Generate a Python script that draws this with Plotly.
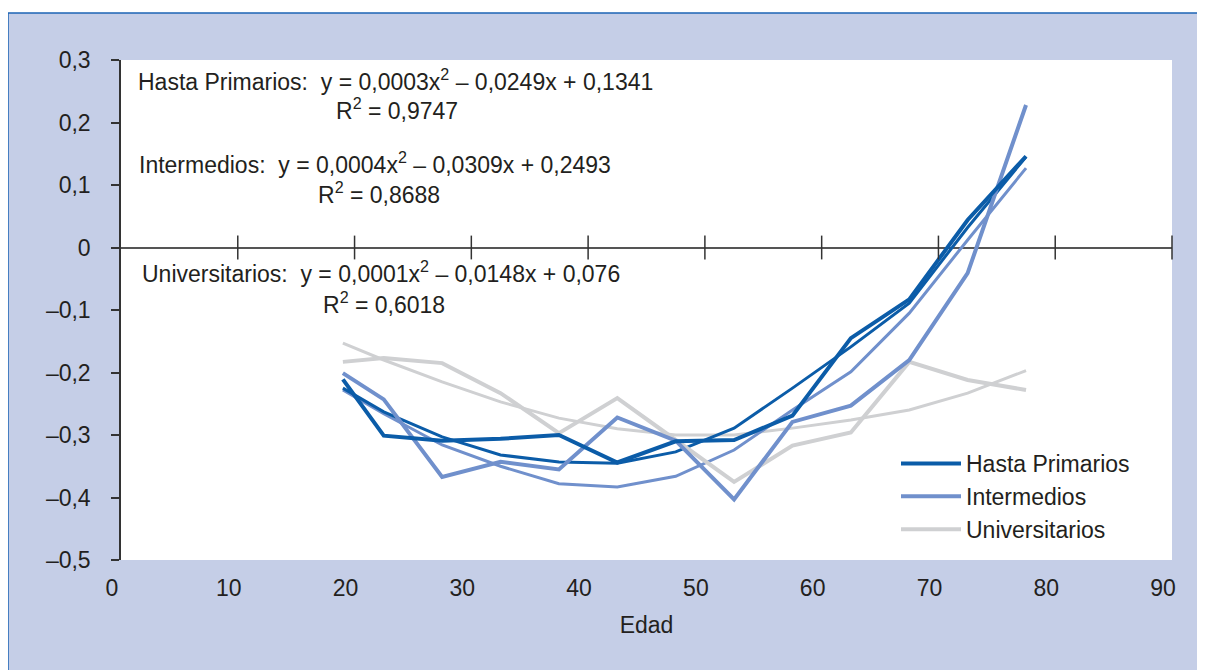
import plotly.graph_objects as go

# ---- data ----
edad = [19, 22.5, 27.5, 32.5, 37.5, 42.5, 47.5, 52.5, 57.5, 62.5, 67.5, 72.5, 77.5]

hasta_primarios = [-0.211, -0.301, -0.309, -0.306, -0.300, -0.344, -0.310, -0.308, -0.269, -0.145, -0.083, 0.044, 0.146]
hasta_trend = [-0.225, -0.263, -0.303, -0.332, -0.343, -0.345, -0.327, -0.289, -0.225, -0.159, -0.089, 0.032, 0.145]

intermedios = [-0.201, -0.243, -0.367, -0.343, -0.355, -0.272, -0.309, -0.403, -0.279, -0.253, -0.180, -0.041, 0.228]
intermedios_trend = [-0.228, -0.266, -0.316, -0.350, -0.378, -0.383, -0.366, -0.324, -0.260, -0.199, -0.105, 0.012, 0.127]

universitarios = [-0.183, -0.177, -0.185, -0.233, -0.297, -0.241, -0.308, -0.375, -0.317, -0.296, -0.183, -0.212, -0.228]
universitarios_trend = [-0.153, -0.180, -0.215, -0.247, -0.273, -0.290, -0.300, -0.300, -0.289, -0.276, -0.260, -0.233, -0.197]

x_ticks = [0, 10, 20, 30, 40, 50, 60, 70, 80, 90]
y_ticks = [0.3, 0.2, 0.1, 0, -0.1, -0.2, -0.3, -0.4, -0.5]
y_tick_labels = ["0,3", "0,2", "0,1", "0", "\u20130,1", "\u20130,2", "\u20130,3", "\u20130,4", "\u20130,5"]

equations = [
    "Hasta Primarios:\u00a0\u00a0y = 0,0003x<sup>2</sup> \u2013 0,0249x + 0,1341",
    "R<sup>2</sup> = 0,9747",
    "Intermedios:\u00a0\u00a0y = 0,0004x<sup>2</sup> \u2013 0,0309x + 0,2493",
    "R<sup>2</sup> = 0,8688",
    "Universitarios:\u00a0\u00a0y = 0,0001x<sup>2</sup> \u2013 0,0148x + 0,076",
    "R<sup>2</sup> = 0,6018",
]

# ---- style ----
C_HASTA = "#0b5ca8"
C_INTER = "#7090cc"
C_UNIV = "#cfd0d2"
BG = "#c5cee7"
TXT = "#231f20"
FONT = "Liberation Sans, Arial, sans-serif"
FS = 23

OFF = 8  # page body margin offset
W, H = 1205, 670
L, T = 121 - OFF, 60 - OFF
R = W - (1172 - OFF)
B = H - (560 - OFF)
PW, PH = W - L - R, H - T - B


def px_x(px):  # page pixel -> paper x
    return (px - OFF - L) / PW


def px_y(py):  # page pixel -> paper y
    return (H - B - (py - OFF)) / PH


fig = go.Figure()

# trend lines (drawn first, thinner)
for ys, col in [(universitarios_trend, C_UNIV), (intermedios_trend, C_INTER), (hasta_trend, C_HASTA)]:
    fig.add_trace(go.Scatter(x=edad, y=ys, mode="lines", line=dict(color=col, width=3),
                             showlegend=False, hoverinfo="skip"))

# data series
for ys, col, name in [(universitarios, C_UNIV, "Universitarios"),
                      (intermedios, C_INTER, "Intermedios"),
                      (hasta_primarios, C_HASTA, "Hasta Primarios")]:
    fig.add_trace(go.Scatter(x=edad, y=ys, mode="lines", name=name,
                             line=dict(color=col, width=4)))

# tick marks crossing the horizontal axis at y = 0
fig.add_trace(go.Scatter(x=x_ticks[1:], y=[0] * (len(x_ticks) - 1), mode="markers",
                         marker=dict(symbol="line-ns", size=17, color="#333333",
                                     line=dict(color="#333333", width=1.5)),
                         showlegend=False, hoverinfo="skip", cliponaxis=False))

# equation annotations
ann_pos = [(136, 80), (334, 109), (137, 163), (316, 193), (140, 272), (321, 303)]
for txt, (ax, ay) in zip(equations, ann_pos):
    fig.add_annotation(text=txt, x=px_x(ax), y=px_y(ay), xref="paper", yref="paper",
                       xanchor="left", yanchor="middle", showarrow=False,
                       font=dict(family=FONT, size=FS, color=TXT))

shapes = [
    # white strips outside the framed panel
    dict(type="rect", xref="paper", yref="paper", x0=px_x(-20), x1=px_x(1230), y0=px_y(13), y1=px_y(-20),
         fillcolor="white", line=dict(width=0), layer="below"),
    dict(type="rect", xref="paper", yref="paper", x0=px_x(-20), x1=px_x(8), y0=px_y(700), y1=px_y(-20),
         fillcolor="white", line=dict(width=0), layer="below"),
    # blue frame lines
    dict(type="line", xref="paper", yref="paper", x0=px_x(8), x1=px_x(1230), y0=px_y(13), y1=px_y(13),
         line=dict(color="#1b63b4", width=1.5)),
    dict(type="line", xref="paper", yref="paper", x0=px_x(8), x1=px_x(8), y0=px_y(13), y1=px_y(700),
         line=dict(color="#1b63b4", width=1.5)),
]

fig.update_layout(
    width=W, height=H,
    margin=dict(l=L, r=R, t=T, b=B),
    paper_bgcolor=BG, plot_bgcolor="white",
    font=dict(family=FONT, size=FS, color=TXT),
    shapes=shapes,
    showlegend=True,
    legend=dict(x=px_x(896), y=px_y(442), xanchor="left", yanchor="top",
                bgcolor="rgba(0,0,0,0)", font=dict(family=FONT, size=FS, color=TXT),
                traceorder="reversed", itemwidth=60),
    xaxis=dict(range=[0, 90], tickvals=x_ticks, ticktext=[str(v) for v in x_ticks],
               showgrid=False, zeroline=False, showline=False, ticks="",
               ticklabelstandoff=12, ticklabelshift=-9,
               tickfont=dict(family=FONT, size=FS, color=TXT),
               title=dict(text="Edad", font=dict(family=FONT, size=FS, color=TXT), standoff=16)),
    yaxis=dict(range=[-0.5, 0.3], tickvals=y_ticks, ticktext=y_tick_labels,
               showgrid=False, zeroline=True, zerolinecolor="#555555", zerolinewidth=2,
               showline=True, linecolor="#333333", linewidth=1.5,
               ticks="outside", ticklen=8, tickwidth=1.5, tickcolor="#333333",
               ticklabelstandoff=16,
               tickfont=dict(family=FONT, size=FS, color=TXT)),
)

fig.write_html("out.html")
